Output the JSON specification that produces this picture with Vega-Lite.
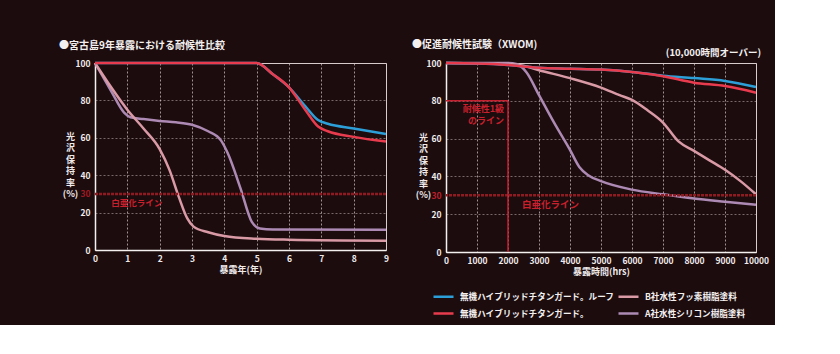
{
  "$schema": "https://vega.github.io/schema/vega-lite/v6.json",
  "background": "#1c0c0e",
  "padding": {"left": 58, "top": 39, "right": 5, "bottom": 5},
  "bounds": "flush",
  "spacing": 60,
  "config": {
    "font": "Noto Sans CJK JP",
    "view": {"stroke": "#d8cccc", "strokeWidth": 1},
    "axis": {
      "labelColor": "#f0eaea", "labelFont": "Noto Sans CJK JP", "labelFontWeight": "bold", "labelFontSize": 8.5,
      "labelOverlap": false, "grid": true,
      "domainColor": "#f4f0f0", "domainWidth": 1.5, "ticks": false,
      "gridColor": "#d8caca", "gridDash": [2, 2], "gridOpacity": 0.7, "gridWidth": 1,
      "titleColor": "#f0eaea", "titleFont": "Noto Sans CJK JP", "titleFontWeight": "bold", "titleFontSize": 9
    },
    "title": {"color": "#f4f0f0", "font": "Noto Sans CJK JP", "fontSize": 10, "fontWeight": "bold", "anchor": "start", "frame": "group"}
  },
  "resolve": {"legend": {"color": "independent"}},
  "hconcat": [
    {
      "width": 291, "height": 187,
      "title": {"text": "●宮古島9年暴露における耐候性比較", "dx": -36, "offset": 7},
      "layer": [
        {
          "data": {"values": [
            {"series": "A社水性シリコン樹脂塗料", "x": 0, "y": 100},
            {"series": "A社水性シリコン樹脂塗料", "x": 0.5, "y": 85},
            {"series": "A社水性シリコン樹脂塗料", "x": 0.9, "y": 73.5},
            {"series": "A社水性シリコン樹脂塗料", "x": 1.1, "y": 71},
            {"series": "A社水性シリコン樹脂塗料", "x": 1.5, "y": 70},
            {"series": "A社水性シリコン樹脂塗料", "x": 2, "y": 69},
            {"series": "A社水性シリコン樹脂塗料", "x": 2.5, "y": 68.3},
            {"series": "A社水性シリコン樹脂塗料", "x": 3, "y": 67},
            {"series": "A社水性シリコン樹脂塗料", "x": 3.5, "y": 63.5},
            {"series": "A社水性シリコン樹脂塗料", "x": 3.9, "y": 58.5},
            {"series": "A社水性シリコン樹脂塗料", "x": 4.1, "y": 52},
            {"series": "A社水性シリコン樹脂塗料", "x": 4.5, "y": 33},
            {"series": "A社水性シリコン樹脂塗料", "x": 4.85, "y": 15},
            {"series": "A社水性シリコン樹脂塗料", "x": 5.1, "y": 11.5},
            {"series": "A社水性シリコン樹脂塗料", "x": 5.5, "y": 11},
            {"series": "A社水性シリコン樹脂塗料", "x": 9, "y": 10.8},
            {"series": "B社水性フッ素樹脂塗料", "x": 0, "y": 100},
            {"series": "B社水性フッ素樹脂塗料", "x": 0.5, "y": 87},
            {"series": "B社水性フッ素樹脂塗料", "x": 1, "y": 75},
            {"series": "B社水性フッ素樹脂塗料", "x": 1.5, "y": 65},
            {"series": "B社水性フッ素樹脂塗料", "x": 2, "y": 54},
            {"series": "B社水性フッ素樹脂塗料", "x": 2.3, "y": 43},
            {"series": "B社水性フッ素樹脂塗料", "x": 2.6, "y": 28},
            {"series": "B社水性フッ素樹脂塗料", "x": 2.85, "y": 17},
            {"series": "B社水性フッ素樹脂塗料", "x": 3.05, "y": 12.5},
            {"series": "B社水性フッ素樹脂塗料", "x": 3.5, "y": 9.5},
            {"series": "B社水性フッ素樹脂塗料", "x": 4, "y": 7.5},
            {"series": "B社水性フッ素樹脂塗料", "x": 5, "y": 6},
            {"series": "B社水性フッ素樹脂塗料", "x": 6, "y": 5.5},
            {"series": "B社水性フッ素樹脂塗料", "x": 9, "y": 5},
            {"series": "無機ハイブリッドチタンガード。ルーフ", "x": 0, "y": 100},
            {"series": "無機ハイブリッドチタンガード。ルーフ", "x": 5, "y": 100},
            {"series": "無機ハイブリッドチタンガード。ルーフ", "x": 5.5, "y": 94},
            {"series": "無機ハイブリッドチタンガード。ルーフ", "x": 6, "y": 87},
            {"series": "無機ハイブリッドチタンガード。ルーフ", "x": 6.5, "y": 77},
            {"series": "無機ハイブリッドチタンガード。ルーフ", "x": 6.9, "y": 69.5},
            {"series": "無機ハイブリッドチタンガード。ルーフ", "x": 7.2, "y": 67.5},
            {"series": "無機ハイブリッドチタンガード。ルーフ", "x": 8, "y": 65},
            {"series": "無機ハイブリッドチタンガード。ルーフ", "x": 9, "y": 62},
            {"series": "無機ハイブリッドチタンガード。", "x": 0, "y": 100},
            {"series": "無機ハイブリッドチタンガード。", "x": 5, "y": 100},
            {"series": "無機ハイブリッドチタンガード。", "x": 5.5, "y": 94},
            {"series": "無機ハイブリッドチタンガード。", "x": 6, "y": 87},
            {"series": "無機ハイブリッドチタンガード。", "x": 6.5, "y": 75},
            {"series": "無機ハイブリッドチタンガード。", "x": 6.9, "y": 66},
            {"series": "無機ハイブリッドチタンガード。", "x": 7.2, "y": 63.5},
            {"series": "無機ハイブリッドチタンガード。", "x": 8, "y": 60.5},
            {"series": "無機ハイブリッドチタンガード。", "x": 9, "y": 58}
          ]},
          "mark": {"type": "line", "interpolate": "monotone"},
          "encoding": {
            "x": {"field": "x", "type": "quantitative", "scale": {"domain": [0, 9], "nice": false},
              "axis": {"values": [0, 1, 2, 3, 4, 5, 6, 7, 8, 9], "tickCount": 10, "format": "d", "title": "暴露年(年)", "labelPadding": 4, "titlePadding": 3, "labelFlush": false}},
            "y": {"field": "y", "type": "quantitative", "scale": {"domain": [0, 100], "nice": false},
              "axis": {"values": [0, 20, 30, 40, 60, 80, 100], "tickCount": 7, "format": "d", "labelPadding": 5,
                "labelColor": {"condition": {"test": "datum.value === 30", "value": "#a01a24"}, "value": "#f0eaea"},
                "gridOpacity": {"condition": {"test": "datum.value === 30", "value": 0}, "value": 0.7},
                "title": ["光", "沢", "保", "持", "率", "(%)"], "titleAngle": 0, "titleX": -25, "titleY": 69,
                "titleBaseline": "top", "titleAlign": "center", "titleLineHeight": 11.5}},
            "color": {"field": "series", "type": "nominal", "legend": null,
              "scale": {"domain": ["無機ハイブリッドチタンガード。ルーフ", "無機ハイブリッドチタンガード。", "B社水性フッ素樹脂塗料", "A社水性シリコン樹脂塗料"],
                "range": ["#2d9fd8", "#e83c4e", "#d99aa6", "#ad8ab4"]}},
            "strokeWidth": {"field": "series", "type": "nominal", "legend": null,
              "scale": {"domain": ["無機ハイブリッドチタンガード。ルーフ", "無機ハイブリッドチタンガード。", "B社水性フッ素樹脂塗料", "A社水性シリコン樹脂塗料"],
                "range": [2.5, 2.5, 1.6, 1.6]}}
          }
        },
        {
          "data": {"values": [{}]},
          "mark": {"type": "rule", "color": "#8e1a22", "strokeWidth": 2.5, "strokeDash": [3, 1]},
          "encoding": {"y": {"datum": 30}}
        },
        {
          "data": {"values": [{}]},
          "mark": {"type": "text", "text": "白亜化ライン", "color": "#c8202c", "fontSize": 8.5, "fontWeight": "bold", "align": "left", "baseline": "middle"},
          "encoding": {"x": {"datum": 0.5}, "y": {"datum": 25.3}}
        }
      ]
    },
    {
      "width": 310, "height": 189,
      "title": {"text": "●促進耐候性試験（XWOM)", "dx": -34, "offset": -2},
      "layer": [
        {
          "data": {"values": [
            {"series": "A社水性シリコン樹脂塗料", "x": 0, "y": 100},
            {"series": "A社水性シリコン樹脂塗料", "x": 2000, "y": 100},
            {"series": "A社水性シリコン樹脂塗料", "x": 2300, "y": 99.3},
            {"series": "A社水性シリコン樹脂塗料", "x": 2600, "y": 95},
            {"series": "A社水性シリコン樹脂塗料", "x": 3000, "y": 83},
            {"series": "A社水性シリコン樹脂塗料", "x": 3500, "y": 68},
            {"series": "A社水性シリコン樹脂塗料", "x": 4000, "y": 54},
            {"series": "A社水性シリコン樹脂塗料", "x": 4300, "y": 45},
            {"series": "A社水性シリコン樹脂塗料", "x": 4600, "y": 40.5},
            {"series": "A社水性シリコン樹脂塗料", "x": 5000, "y": 37.5},
            {"series": "A社水性シリコン樹脂塗料", "x": 6000, "y": 33},
            {"series": "A社水性シリコン樹脂塗料", "x": 7000, "y": 30.5},
            {"series": "A社水性シリコン樹脂塗料", "x": 8000, "y": 28.3},
            {"series": "A社水性シリコン樹脂塗料", "x": 9000, "y": 26.6},
            {"series": "A社水性シリコン樹脂塗料", "x": 10000, "y": 25},
            {"series": "B社水性フッ素樹脂塗料", "x": 0, "y": 100},
            {"series": "B社水性フッ素樹脂塗料", "x": 2000, "y": 99.5},
            {"series": "B社水性フッ素樹脂塗料", "x": 2500, "y": 98.5},
            {"series": "B社水性フッ素樹脂塗料", "x": 3000, "y": 96.2},
            {"series": "B社水性フッ素樹脂塗料", "x": 4000, "y": 92},
            {"series": "B社水性フッ素樹脂塗料", "x": 5000, "y": 87},
            {"series": "B社水性フッ素樹脂塗料", "x": 5600, "y": 83},
            {"series": "B社水性フッ素樹脂塗料", "x": 6000, "y": 80.5},
            {"series": "B社水性フッ素樹脂塗料", "x": 6500, "y": 75},
            {"series": "B社水性フッ素樹脂塗料", "x": 7000, "y": 68.5},
            {"series": "B社水性フッ素樹脂塗料", "x": 7500, "y": 58.5},
            {"series": "B社水性フッ素樹脂塗料", "x": 8000, "y": 53.5},
            {"series": "B社水性フッ素樹脂塗料", "x": 8500, "y": 48.5},
            {"series": "B社水性フッ素樹脂塗料", "x": 9000, "y": 43.5},
            {"series": "B社水性フッ素樹脂塗料", "x": 9500, "y": 37.5},
            {"series": "B社水性フッ素樹脂塗料", "x": 10000, "y": 30.5},
            {"series": "無機ハイブリッドチタンガード。ルーフ", "x": 0, "y": 100},
            {"series": "無機ハイブリッドチタンガード。ルーフ", "x": 1000, "y": 99.8},
            {"series": "無機ハイブリッドチタンガード。ルーフ", "x": 2000, "y": 99},
            {"series": "無機ハイブリッドチタンガード。ルーフ", "x": 2500, "y": 98.2},
            {"series": "無機ハイブリッドチタンガード。ルーフ", "x": 3000, "y": 97.5},
            {"series": "無機ハイブリッドチタンガード。ルーフ", "x": 4000, "y": 97},
            {"series": "無機ハイブリッドチタンガード。ルーフ", "x": 5000, "y": 96.5},
            {"series": "無機ハイブリッドチタンガード。ルーフ", "x": 6000, "y": 95.3},
            {"series": "無機ハイブリッドチタンガード。ルーフ", "x": 7000, "y": 93.3},
            {"series": "無機ハイブリッドチタンガード。ルーフ", "x": 8000, "y": 92},
            {"series": "無機ハイブリッドチタンガード。ルーフ", "x": 9000, "y": 90.5},
            {"series": "無機ハイブリッドチタンガード。ルーフ", "x": 10000, "y": 87.3},
            {"series": "無機ハイブリッドチタンガード。", "x": 0, "y": 100},
            {"series": "無機ハイブリッドチタンガード。", "x": 1000, "y": 99.8},
            {"series": "無機ハイブリッドチタンガード。", "x": 2000, "y": 99},
            {"series": "無機ハイブリッドチタンガード。", "x": 2500, "y": 98.2},
            {"series": "無機ハイブリッドチタンガード。", "x": 3000, "y": 97.5},
            {"series": "無機ハイブリッドチタンガード。", "x": 4000, "y": 97},
            {"series": "無機ハイブリッドチタンガード。", "x": 5000, "y": 96.5},
            {"series": "無機ハイブリッドチタンガード。", "x": 6000, "y": 95.2},
            {"series": "無機ハイブリッドチタンガード。", "x": 7000, "y": 93},
            {"series": "無機ハイブリッドチタンガード。", "x": 8000, "y": 89.6},
            {"series": "無機ハイブリッドチタンガード。", "x": 9000, "y": 87.8},
            {"series": "無機ハイブリッドチタンガード。", "x": 10000, "y": 84.3}
          ]},
          "mark": {"type": "line", "interpolate": "monotone"},
          "encoding": {
            "x": {"field": "x", "type": "quantitative", "scale": {"domain": [0, 10000], "nice": false},
              "axis": {"values": [0, 1000, 2000, 3000, 4000, 5000, 6000, 7000, 8000, 9000, 10000], "tickCount": 11, "format": "d", "title": "暴露時間(hrs)", "labelPadding": 4, "titlePadding": 3, "labelFlush": false}},
            "y": {"field": "y", "type": "quantitative", "scale": {"domain": [0, 100], "nice": false},
              "axis": {"values": [0, 20, 30, 40, 60, 80, 100], "tickCount": 7, "format": "d", "labelPadding": 5,
                "labelColor": {"condition": {"test": "datum.value === 30", "value": "#c0202c"}, "value": "#f0eaea"},
                "gridOpacity": {"condition": {"test": "datum.value === 30", "value": 0}, "value": 0.7},
                "title": ["光", "沢", "保", "持", "率", "(%)"], "titleAngle": 0, "titleX": -23, "titleY": 70,
                "titleBaseline": "top", "titleAlign": "center", "titleLineHeight": 11.5}},
            "color": {"field": "series", "type": "nominal",
              "scale": {"domain": ["無機ハイブリッドチタンガード。ルーフ", "無機ハイブリッドチタンガード。", "B社水性フッ素樹脂塗料", "A社水性シリコン樹脂塗料"],
                "range": ["#2d9fd8", "#e83c4e", "#d99aa6", "#ad8ab4"]},
              "legend": {"orient": "none", "legendX": -14, "legendY": 222, "columns": 2, "title": null,
                "symbolType": "stroke", "symbolSize": 400, "symbolStrokeWidth": 2.5, "labelLimit": 400,
                "labelColor": "#f4f0f0", "labelFont": "Noto Sans CJK JP", "labelFontSize": 8.6, "labelFontWeight": "bold",
                "labelOffset": 5, "columnPadding": -2, "rowPadding": -2}},
            "strokeWidth": {"field": "series", "type": "nominal", "legend": null,
              "scale": {"domain": ["無機ハイブリッドチタンガード。ルーフ", "無機ハイブリッドチタンガード。", "B社水性フッ素樹脂塗料", "A社水性シリコン樹脂塗料"],
                "range": [2.5, 2.5, 1.6, 1.6]}}
          }
        },
        {
          "data": {"values": [{}]},
          "mark": {"type": "rule", "color": "#8e1a22", "strokeWidth": 2.5, "strokeDash": [3, 1]},
          "encoding": {"y": {"datum": 30}}
        },
        {
          "data": {"values": [{}]},
          "mark": {"type": "rule", "color": "#c42030", "strokeWidth": 1.5},
          "encoding": {"x": {"datum": 2000}, "y": {"datum": 0}, "y2": {"datum": 80}}
        },
        {
          "data": {"values": [{}]},
          "mark": {"type": "rule", "color": "#c42030", "strokeWidth": 1.5},
          "encoding": {"y": {"datum": 80}, "x": {"datum": 0}, "x2": {"datum": 2000}}
        },
        {
          "data": {"values": [{}]},
          "mark": {"type": "text", "text": "白亜化ライン", "color": "#c8202c", "fontSize": 9.5, "fontWeight": "bold", "align": "left", "baseline": "middle"},
          "encoding": {"x": {"datum": 2450}, "y": {"datum": 24.9}}
        },
        {
          "data": {"values": [{}]},
          "mark": {"type": "text", "text": "耐候性1級", "color": "#c8202c", "fontSize": 9, "fontWeight": "bold", "align": "right", "baseline": "middle"},
          "encoding": {"x": {"datum": 1870}, "y": {"datum": 75.8}}
        },
        {
          "data": {"values": [{}]},
          "mark": {"type": "text", "text": "のライン", "color": "#c8202c", "fontSize": 9, "fontWeight": "bold", "align": "right", "baseline": "middle"},
          "encoding": {"x": {"datum": 1870}, "y": {"datum": 69.3}}
        },
        {
          "data": {"values": [{}]},
          "mark": {"type": "text", "text": "(10,000時間オーバー)", "color": "#f4f0f0", "fontSize": 9.5, "fontWeight": "bold", "align": "right", "baseline": "middle", "dx": 5, "dy": -10},
          "encoding": {"x": {"datum": 10000}, "y": {"datum": 100}}
        }
      ]
    }
  ]
}
